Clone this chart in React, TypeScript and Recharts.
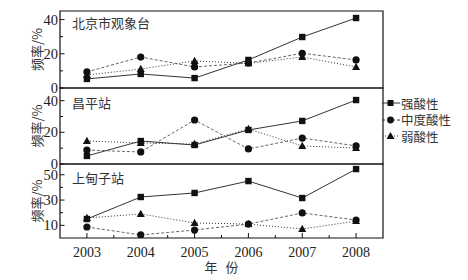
import React from 'react';
import { LineChart, Line, XAxis, YAxis, ReferenceArea } from 'recharts';

// acid rain frequency (%) by year, three stations
const years = [2003, 2004, 2005, 2006, 2007, 2008];

const bjStrong = [5.3, 8.2, 5.8, 16.4, 29.8, 40.9];
const bjModerate = [9.4, 18.1, 12.3, 14.6, 20.3, 16.4];
const bjWeak = [7.6, 11.1, 15.8, 14.4, 18.1, 12.3];

const cpStrong = [5.1, 14.5, 12, 21.5, 27.2, 40.4];
const cpModerate = [8.8, 7.6, 27.8, 9.5, 16.4, 11.4];
const cpWeak = [14.5, 13.3, 12.6, 22.1, 11.4, 10.1];

const sdzStrong = [15, 32.4, 35.6, 45, 31.6, 54.5];
const sdzModerate = [8.7, 2.4, 6.3, 11, 19.8, 14.2];
const sdzWeak = [15.8, 19, 11.9, 11, 7.1, 13.4];

const seriesNames = ['强酸性', '中度酸性', '弱酸性'];
const stationNames = ['北京市观象台', '昌平站', '上甸子站'];
const yAxisTitle = '频率/%';
const xAxisTitle = '年 份';

const xTicks = [2003, 2003.5, 2004, 2004.5, 2005, 2005.5, 2006, 2006.5, 2007, 2007.5, 2008];

const SERIF = '"Liberation Serif", "DejaVu Serif", serif';
const CJK = '"Noto Sans CJK SC", sans-serif';

const buildRows = (s: number[], m: number[], w: number[]) =>
  years.map((year, i) => ({ year, strong: s[i], moderate: m[i], weak: w[i] }));

const Square = (p: any) => (
  <rect key={p.key} x={p.cx - 3.2} y={p.cy - 3.2} width={6.4} height={6.4} fill="#111" />
);
const Circle = (p: any) => <circle key={p.key} cx={p.cx} cy={p.cy} r={3.6} fill="#111" />;
const Triangle = (p: any) => (
  <path key={p.key} d={`M${p.cx},${p.cy - 4.2}L${p.cx + 4},${p.cy + 3}L${p.cx - 4},${p.cy + 3}Z`} fill="#111" />
);

// inward tick marks only (upper panels)
const XTickMark = ({ x, y, payload }: any) => {
  const major = Number.isInteger(Number(payload.value));
  return <line x1={x} y1={y} x2={x} y2={y - (major ? 5 : 3)} stroke="#111" />;
};

// inward tick marks plus year labels (bottom panel)
const XTickLabelled = ({ x, y, payload }: any) => {
  const major = Number.isInteger(Number(payload.value));
  return (
    <g>
      <line x1={x} y1={y} x2={x} y2={y - (major ? 5 : 3)} stroke="#111" />
      {major ? (
        <text x={x} y={y + 19} textAnchor="middle" fill="#222" style={{ fontFamily: SERIF, fontSize: 14 }}>
          {payload.value}
        </text>
      ) : null}
    </g>
  );
};

const YTick = ({ x, y, payload, labelled }: any) => {
  const show = labelled.includes(payload.value);
  return (
    <g>
      <line x1={x} y1={y} x2={x + (show ? 4.5 : 3)} y2={y} stroke="#111" />
      {show && (
        <text x={x - 2} y={y + 5} textAnchor="end" fill="#222" style={{ fontFamily: SERIF, fontSize: 14.5 }}>
          {payload.value}
        </text>
      )}
    </g>
  );
};

const YTitle = ({ viewBox }: any) => {
  const cy = viewBox.y + viewBox.height / 2;
  return (
    <text x={36} y={cy} transform={`rotate(-90 36 ${cy})`} textAnchor="middle" dominantBaseline="central"
      fill="#333" style={{ fontFamily: CJK, fontSize: 13 }}>
      {yAxisTitle}
    </text>
  );
};

type PanelProps = {
  top: number;
  height: number;
  margin: { top: number; bottom: number };
  data: any[];
  domain: [number, number];
  yTicks: number[];
  yLabels: number[];
  showX: boolean;
};

const Panel = ({ top, height, margin, data, domain, yTicks, yLabels, showX }: PanelProps) => (
  <div style={{ position: 'absolute', left: 0, top }}>
    <LineChart width={468} height={height} data={data}
      margin={{ top: margin.top, bottom: margin.bottom, left: 0, right: 85 }}>
      <XAxis dataKey="year" type="number" domain={[2002.5, 2008.5]} ticks={xTicks} height={showX ? 42 : 0}
        axisLine={false} tickLine={false} tickSize={0} tickMargin={0} interval={0}
        tick={showX ? <XTickLabelled /> : <XTickMark />} />
      <YAxis type="number" domain={domain} ticks={yTicks} width={60} axisLine={false} tickLine={false}
        tickSize={0} tickMargin={0} interval={0} allowDataOverflow
        tick={<YTick labelled={yLabels} />} label={<YTitle />} />
      <ReferenceArea x1={2002.5} x2={2008.5} y1={domain[0]} y2={domain[1]} fill="none" stroke="#111"
        strokeWidth={1.2} ifOverflow="visible" />
      <Line dataKey="strong" type="linear" stroke="#333" strokeWidth={1} dot={Square}
        isAnimationActive={false} />
      <Line dataKey="moderate" type="linear" stroke="#666" strokeWidth={1} strokeDasharray="3 2"
        dot={Circle} isAnimationActive={false} />
      <Line dataKey="weak" type="linear" stroke="#333" strokeWidth={1} strokeDasharray="1 2"
        dot={Triangle} isAnimationActive={false} />
    </LineChart>
  </div>
);

const Title = ({ text, top }: { text: string; top: number }) => (
  <div style={{ position: 'absolute', left: 72, top, fontSize: 13, fontFamily: CJK, color: '#333', lineHeight: '16px' }}>
    {text}
  </div>
);

const legendMarks = [
  { dash: undefined, mark: <rect x={6.5} y={4} width={6} height={6} fill="#111" /> },
  { dash: '3 2', mark: <circle cx={9.5} cy={7} r={3.4} fill="#111" /> },
  { dash: '1 2', mark: <path d="M9.5,3L13.5,10L5.5,10Z" fill="#111" /> },
];

export default function App() {
  return (
    <div style={{ position: 'absolute', left: 0, top: 0, width: 468, height: 280, background: '#fff', fontFamily: SERIF }}>
      <Panel top={0} height={100} margin={{ top: 11, bottom: 12 }} data={buildRows(bjStrong, bjModerate, bjWeak)}
        domain={[0, 45]} yTicks={[0, 10, 20, 30, 40]} yLabels={[0, 20, 40]} showX={false} />
      <Panel top={78} height={100} margin={{ top: 10, bottom: 14 }} data={buildRows(cpStrong, cpModerate, cpWeak)}
        domain={[0, 48]} yTicks={[0, 10, 20, 30, 40]} yLabels={[0, 20, 40]} showX={false} />
      <Panel top={154} height={126} margin={{ top: 10, bottom: 0 }} data={buildRows(sdzStrong, sdzModerate, sdzWeak)}
        domain={[0, 58.5]} yTicks={[10, 20, 30, 40, 50]} yLabels={[10, 30, 50]} showX={true} />

      <Title text={stationNames[0]} top={15} />
      <Title text={stationNames[1]} top={95} />
      <Title text={stationNames[2]} top={170} />

      <div style={{ position: 'absolute', left: 0, top: 259, width: 443, textAlign: 'center', fontSize: 13,
        fontFamily: CJK, color: '#333', lineHeight: '16px', wordSpacing: 5 }}>
        {xAxisTitle}
      </div>

      <div style={{ position: 'absolute', left: 381, top: 95 }}>
        {seriesNames.map((name, i) => (
          <div key={name} style={{ display: 'flex', alignItems: 'center', height: 16.5 }}>
            <svg width={20} height={14}>
              <line x1={1} y1={7} x2={19} y2={7} stroke="#333" strokeDasharray={legendMarks[i].dash} />
              {legendMarks[i].mark}
            </svg>
            <span style={{ fontSize: 12.5, fontFamily: CJK, color: '#333', lineHeight: '15px' }}>{name}</span>
          </div>
        ))}
      </div>
    </div>
  );
}
